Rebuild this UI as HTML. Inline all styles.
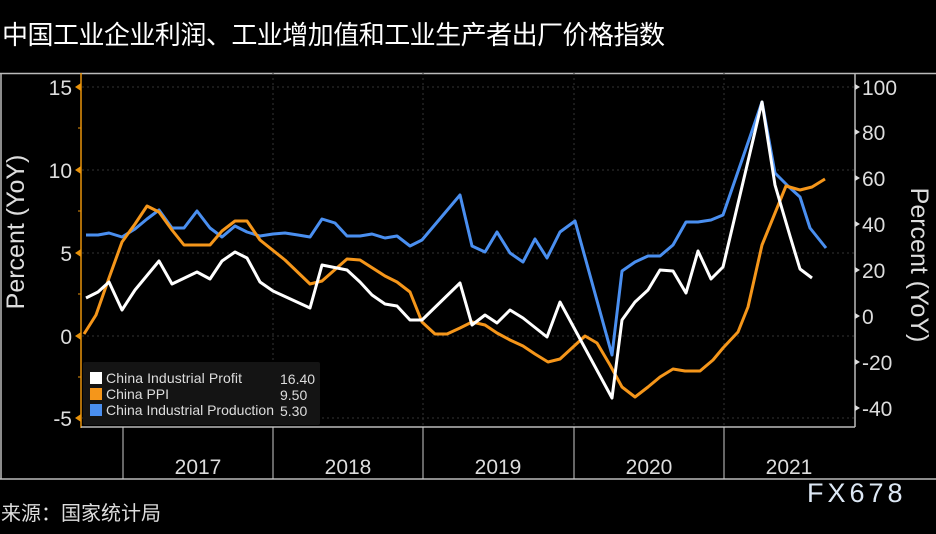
<!DOCTYPE html>
<html><head><meta charset="utf-8"><style>
body{margin:0;background:#000;width:936px;height:529px;overflow:hidden;font-family:"Liberation Sans","Noto Sans CJK SC",sans-serif}
</style></head><body>
<svg width="936" height="529" xmlns="http://www.w3.org/2000/svg" font-family="Liberation Sans, Noto Sans CJK SC, sans-serif">
<rect width="936" height="529" fill="#000"/>
<text x="2" y="44" fill="#fff" font-size="26" font-family="Noto Sans CJK SC, sans-serif" textLength="663">中国工业企业利润、工业增加值和工业生产者出厂价格指数</text>
<line x1="0" y1="73.5" x2="936" y2="73.5" stroke="#bbb" stroke-width="1.5"/>
<line x1="1" y1="73" x2="1" y2="479" stroke="#bbb" stroke-width="1.5"/>
<line x1="0" y1="479" x2="936" y2="479" stroke="#bbb" stroke-width="1.5"/>
<g stroke="#333" stroke-dasharray="2,3" stroke-width="1">
<line x1="82" y1="87" x2="855" y2="87"/><line x1="82" y1="170" x2="855" y2="170"/><line x1="82" y1="253" x2="855" y2="253"/><line x1="82" y1="336" x2="855" y2="336"/><line x1="82" y1="418" x2="855" y2="418"/>
<line x1="273" y1="73" x2="273" y2="427"/><line x1="423" y1="73" x2="423" y2="427"/><line x1="574" y1="73" x2="574" y2="427"/><line x1="724" y1="73" x2="724" y2="427"/>
</g>
<line x1="81" y1="73" x2="81" y2="428" stroke="#e8920a" stroke-width="1.5"/>
<g fill="#e8920a"><path d="M81 83 L75 87 L81 91Z"/><path d="M81 166 L75 170 L81 174Z"/><path d="M81 249 L75 253 L81 257Z"/><path d="M81 332 L75 336 L81 340Z"/><path d="M81 414 L75 418 L81 422Z"/></g>
<g stroke="#e8920a"><line x1="78" y1="128" x2="81" y2="128"/><line x1="78" y1="211" x2="81" y2="211"/><line x1="78" y1="294" x2="81" y2="294"/><line x1="78" y1="377" x2="81" y2="377"/></g>
<g fill="#ddd" font-size="21" text-anchor="end"><text x="72" y="95">15</text><text x="72" y="178">10</text><text x="72" y="261">5</text><text x="72" y="344">0</text><text x="72" y="426">-5</text></g>
<text transform="translate(24,232) rotate(-90)" fill="#ddd" font-size="25" text-anchor="middle">Percent (YoY)</text>
<line x1="855" y1="73" x2="855" y2="427" stroke="#bbb" stroke-width="1.5"/>
<line x1="81" y1="427" x2="855" y2="427" stroke="#bbb" stroke-width="1.5"/>
<g fill="#ddd"><path d="M855 84 L860 87 L855 90Z"/><path d="M855 129 L860 132 L855 135Z"/><path d="M855 175 L860 178 L855 181Z"/><path d="M855 221 L860 224 L855 227Z"/><path d="M855 267 L860 270 L855 273Z"/><path d="M855 313 L860 316 L855 319Z"/><path d="M855 359 L860 362 L855 365Z"/><path d="M855 405 L860 408 L855 411Z"/></g>
<g fill="#ddd" font-size="21"><text x="862" y="95">100</text><text x="862" y="140">80</text><text x="862" y="186">60</text><text x="862" y="232">40</text><text x="862" y="278">20</text><text x="862" y="324">0</text><text x="862" y="370">-20</text><text x="862" y="416">-40</text></g>
<text transform="translate(911,265) rotate(90)" fill="#ddd" font-size="25" text-anchor="middle">Percent (YoY)</text>
<g stroke="#ccc"><line x1="123" y1="427" x2="123" y2="479"/><line x1="273" y1="427" x2="273" y2="479"/><line x1="423" y1="427" x2="423" y2="479"/><line x1="574" y1="427" x2="574" y2="479"/><line x1="724" y1="427" x2="724" y2="479"/></g>
<g fill="#ddd" font-size="21" text-anchor="middle"><text x="198" y="474">2017</text><text x="348" y="474">2018</text><text x="498" y="474">2019</text><text x="649" y="474">2020</text><text x="789" y="474">2021</text></g>
<g fill="none" stroke-width="3" stroke-linejoin="round">
<polyline stroke="#4a8ff0" points="86,235 98,235 109,233 122,237 135,229 147,219 159,210 172,228 184,228 197,211 210,228 222,237 235,226 247,232 260,236 273,234 285,233 298,235 310,237 322,219 335,223 347,236 360,236 372,234 385,238 397,236 410,246 422,240 460,195 472,246 485,252 497,232 510,253 523,262 535,239 547,258 560,232 575,221 612,355 622,271 635,262 648,256 660,256 673,245 686,222 698,222 711,220 723,215 762,102 775,173 788,186 800,197 810,228 826,248"/>
<polyline stroke="#f5961a" points="84,334 96,315 109,278 122,242 135,224 147,206 159,212 172,230 184,245 210,245 222,231 235,221 247,221 260,240 285,260 310,284 322,281 347,259 360,260 385,276 397,282 410,292 422,322 435,334 447,334 460,328 472,322 485,325 497,333 510,340 523,346 535,354 548,362 560,359 585,336 597,343 610,365 622,387 635,397 648,387 660,377 673,369 685,371 700,371 713,360 723,348 738,332 748,307 762,245 786,186 800,190 812,187 825,179"/>
<polyline stroke="#fff" points="86,298 98,292 109,282 122,310 135,290 159,261 172,284 197,272 210,279 222,261 235,252 247,258 260,282 273,291 310,308 322,265 347,270 360,282 372,295 385,304 397,306 410,320 422,320 460,283 472,325 485,315 497,323 510,310 523,318 547,337 560,302 612,398 622,320 635,302 648,290 660,270 673,271 686,293 698,251 711,279 723,267 762,102 775,185 790,236 800,269 812,278"/>
</g>
<rect x="83" y="362" width="237" height="63" fill="#141414" rx="2"/>
<rect x="90" y="372" width="12" height="12" fill="#fff"/>
<rect x="90" y="388" width="12" height="12" fill="#f5961a"/>
<rect x="90" y="404" width="12" height="12" fill="#4a8ff0"/>
<g fill="#ddd" font-size="14"><text x="106" y="383" textLength="136">China Industrial Profit</text><text x="106" y="399">China PPI</text><text x="106" y="415" textLength="168">China Industrial Production</text>
<text x="280" y="384">16.40</text><text x="280" y="400">9.50</text><text x="280" y="416">5.30</text></g>
<text x="1" y="520" fill="#ddd" font-size="20" font-family="Noto Sans CJK SC, sans-serif">来源：国家统计局</text>
<text x="807" y="502" fill="#dde8f5" font-size="27" letter-spacing="4">FX678</text>
</svg>
</body></html>
